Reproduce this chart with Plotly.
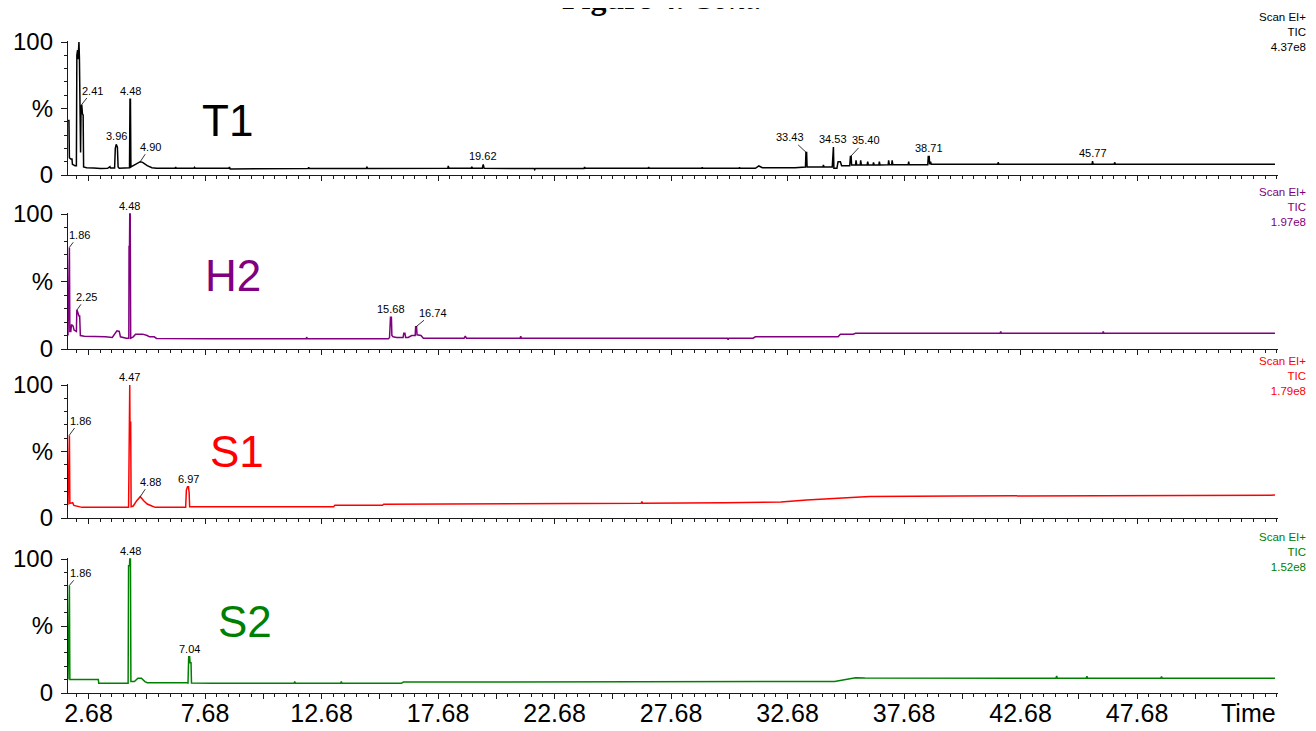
import plotly.graph_objects as go

# ---------------- data (retention time [min], relative intensity [%]) ----------------
SAMPLES = ["T1", "H2", "S1", "S2"]
COLORS = ["#000000", "#800080", "#ff0000", "#008000"]
SCALE_LABELS = ["4.37e8", "1.97e8", "1.79e8", "1.52e8"]

T1_POINTS = [
    (1.80, 41), (1.84, 41), (1.86, 13), (1.92, 12), (1.97, 12), (1.99, 8), (2.10, 7), (2.16, 7),
    (2.18, 90), (2.21, 94), (2.23, 87), (2.25, 100), (2.27, 100), (2.29, 88), (2.31, 17), (2.34, 17),
    (2.36, 50), (2.39, 53), (2.42, 46), (2.45, 45), (2.47, 6), (2.60, 5.5), (2.90, 5.2), (3.20, 4.8),
    (3.50, 5), (3.60, 6.2), (3.62, 5.2), (3.80, 5.2), (3.83, 20), (3.87, 23), (3.92, 21), (3.95, 6),
    (4.00, 5), (4.44, 5.5), (4.46, 57), (4.48, 57), (4.50, 6), (4.60, 7), (4.80, 9), (4.90, 10),
    (5.00, 9.5), (5.20, 7), (5.40, 5.5), (5.60, 5), (6.40, 5), (6.42, 6), (6.45, 5), (7.20, 5),
    (7.23, 5.8), (7.26, 5), (8.70, 5), (8.73, 6), (8.76, 4.6), (11.50, 4.6), (12.10, 4.8), (12.13, 5.8),
    (12.16, 4.8), (14.60, 4.9), (14.63, 5.8), (14.66, 4.9), (18.10, 5), (18.12, 6.8), (18.15, 5),
    (19.10, 5), (19.13, 6.2), (19.16, 5), (19.58, 5), (19.62, 8), (19.66, 5), (21.80, 4.9), (21.83, 4.0),
    (21.86, 4.9), (23.95, 4.9), (23.97, 6), (24.00, 5), (26.70, 5), (26.72, 6), (26.75, 5), (29.00, 5),
    (29.02, 5.8), (29.05, 5), (30.60, 5), (30.62, 5.8), (30.65, 5), (31.30, 5), (31.45, 6.8), (31.60, 5.5),
    (33.00, 5.4), (33.30, 5.8), (33.45, 6), (33.47, 17), (33.50, 17), (33.52, 6), (34.20, 6), (34.22, 7.5),
    (34.25, 6), (34.60, 6), (34.62, 21), (34.65, 21), (34.67, 5), (34.80, 5), (34.85, 10), (34.95, 10),
    (35.00, 7), (35.35, 7), (35.38, 14), (35.41, 14), (35.43, 7.5), (35.60, 7.5), (35.62, 11), (35.65, 7.5),
    (35.80, 7.5), (35.82, 11), (35.85, 7.5), (36.10, 7.6), (36.12, 10), (36.15, 7.6), (36.35, 7.6),
    (36.37, 9.5), (36.40, 7.6), (36.60, 7.6), (36.62, 10), (36.65, 7.6), (37.00, 7.7), (37.02, 11),
    (37.05, 7.7), (37.15, 7.7), (37.17, 11), (37.20, 7.7), (37.86, 7.8), (37.88, 10), (37.90, 7.8),
    (38.70, 7.8), (38.72, 14), (38.76, 14), (38.78, 8), (38.82, 10), (38.85, 8), (41.70, 8), (41.72, 9.5),
    (41.75, 8), (45.75, 8), (45.77, 10.5), (45.80, 8), (46.70, 8), (46.72, 9.5), (46.75, 8), (53.60, 8),
]

H2_POINTS = [
    (1.80, 10), (1.83, 75), (1.86, 75), (1.88, 13), (1.92, 13), (1.95, 18), (2.02, 17), (2.06, 14),
    (2.13, 13), (2.16, 13), (2.18, 29), (2.22, 27), (2.25, 24), (2.28, 24), (2.30, 25), (2.33, 10),
    (2.50, 9.5), (2.90, 9.5), (3.10, 9), (3.40, 9), (3.70, 8.5), (3.80, 11), (3.90, 13.5), (4.00, 13),
    (4.05, 9), (4.30, 8), (4.41, 8), (4.42, 76), (4.44, 76), (4.45, 100), (4.47, 100), (4.49, 8),
    (4.60, 9), (4.70, 11), (5.00, 11), (5.20, 10), (5.30, 9), (5.50, 9), (5.60, 7.8), (8.00, 7.5),
    (12.02, 7.5), (12.04, 8.8), (12.07, 7.5), (15.55, 7.5), (15.60, 8.5), (15.64, 23.5), (15.68, 23.5),
    (15.70, 10), (15.75, 9), (15.90, 8.5), (16.18, 8.5), (16.21, 11.6), (16.26, 11.6), (16.29, 8.5),
    (16.40, 8.5), (16.55, 10), (16.70, 10), (16.72, 16.5), (16.76, 16.5), (16.78, 10.5), (16.95, 10),
    (17.05, 8), (18.80, 8), (18.85, 9.5), (18.90, 8), (21.20, 8), (21.23, 9.5), (21.26, 8), (30.10, 8),
    (30.13, 6.8), (30.16, 8), (31.20, 8), (31.30, 9), (34.85, 9), (34.95, 11), (35.50, 11), (35.60, 11.6),
    (41.80, 11.6), (41.83, 13), (41.86, 11.6), (46.20, 11.6), (46.23, 13), (46.26, 11.6), (53.60, 11.6),
]

S1_POINTS = [
    (1.80, 10), (1.83, 62), (1.86, 62), (1.88, 11), (1.95, 11), (2.00, 11.5), (2.05, 9.5), (2.20, 9),
    (2.40, 8), (3.00, 8), (3.50, 7.8), (4.00, 8), (4.40, 8), (4.42, 100), (4.45, 100), (4.46, 72),
    (4.49, 72), (4.51, 8.5), (4.60, 9), (4.75, 13), (4.90, 16), (5.05, 13), (5.20, 10.5), (5.40, 9),
    (5.55, 8), (6.20, 8), (6.85, 8), (6.88, 21), (6.93, 23.5), (6.97, 23.5), (7.00, 19), (7.02, 8.5),
    (7.20, 8.5), (10.00, 8.5), (13.20, 8.5), (13.25, 9.5), (15.30, 9.5), (15.35, 10.3), (20.00, 10.5),
    (25.00, 10.8), (26.40, 11), (26.43, 12.3), (26.46, 11), (30.00, 11.5), (32.40, 12), (33.50, 13.5),
    (34.50, 14.5), (35.50, 15.8), (36.20, 16.2), (40.00, 16.5), (45.00, 16.8), (50.00, 17), (53.60, 17.2),
]

S2_POINTS = [
    (1.80, 10), (1.83, 80), (1.86, 80), (1.88, 10), (2.50, 10), (3.10, 10), (3.12, 7.2), (4.38, 7.2),
    (4.40, 95), (4.44, 95), (4.45, 100), (4.48, 100), (4.50, 8.5), (4.65, 8.5), (4.80, 11), (4.95, 11),
    (5.10, 8.5), (5.20, 7.7), (6.90, 7.7), (6.95, 7.5), (6.98, 27), (7.02, 27), (7.04, 22.6), (7.08, 22.6),
    (7.10, 7.5), (8.00, 7.2), (11.50, 7.2), (11.53, 8.5), (11.56, 7.2), (13.50, 7.2), (13.53, 8.5),
    (13.56, 7.2), (16.10, 7.2), (16.20, 8.2), (20.00, 8.2), (25.00, 8.2), (30.00, 8.3), (33.30, 8.4),
    (34.70, 8.6), (35.60, 11.4), (36.00, 11.2), (44.20, 11), (44.23, 12.7), (44.26, 11), (45.50, 11),
    (45.53, 12.5), (45.56, 11), (48.70, 11), (48.73, 12.3), (48.76, 11), (53.60, 11),
]

# peak labels: (text, retention time, intensity)
T1_PEAKS = [("2.41", 2.39, 53), ("3.96", 3.87, 23), ("4.48", 4.47, 57), ("4.90", 4.90, 10),
            ("19.62", 19.62, 8), ("33.43", 33.48, 17), ("34.53", 34.63, 21), ("35.40", 35.39, 14),
            ("38.71", 38.74, 14), ("45.77", 45.77, 10.5)]
H2_PEAKS = [("1.86", 1.845, 75), ("2.25", 2.19, 29), ("4.48", 4.46, 100), ("15.68", 15.66, 23.5),
            ("16.74", 16.74, 16.5)]
S1_PEAKS = [("1.86", 1.845, 62), ("4.47", 4.435, 100), ("4.88", 4.90, 16), ("6.97", 6.95, 23.5)]
S2_PEAKS = [("1.86", 1.845, 80), ("4.48", 4.465, 100), ("7.04", 7.00, 27)]

X_TICK_LABELS = ["2.68", "7.68", "12.68", "17.68", "22.68", "27.68", "32.68", "37.68", "42.68", "47.68"]
Y_TICK_LABELS = ["0", "%", "100"]

ALL_POINTS = [T1_POINTS, H2_POINTS, S1_POINTS, S2_POINTS]
ALL_PEAKS = [T1_PEAKS, H2_PEAKS, S1_PEAKS, S2_PEAKS]

# leader-line offsets (px) for labels that sit beside their peak; others sit straight above
LEADERS = {
    (0, "2.41"): (11, -14), (0, "4.90"): (10, -15), (0, "33.43"): (-16, -15), (0, "35.40"): (15, -16),
    (1, "1.86"): (10, -13), (1, "2.25"): (9, -13), (1, "16.74"): (17, -14),
    (2, "1.86"): (11, -15), (2, "4.88"): (10, -15),
    (3, "1.86"): (11, -13),
}

# ---------------- layout geometry (page pixels; the page body has an 8 px margin) ----------------
PAGE_W, PAGE_H, BODY = 1316, 731, 8
PLOT_L, PLOT_R, PLOT_T, PLOT_B = 68, 1278, 38, 693
W, H = PAGE_W - BODY, PAGE_H - BODY
ML, MR, MT, MB = PLOT_L - BODY, PAGE_W - PLOT_R, PLOT_T - BODY, PAGE_H - PLOT_B
PW, PH = PLOT_R - PLOT_L, PLOT_B - PLOT_T
X_RANGE = [1.80, 53.73]
PANELS_PX = [(42, 175), (214, 349), (385, 518), (559, 693)]  # (100 % row, 0 % row)
BIG_LABEL_PX = [(227, 120), (233, 275), (237, 451), (245, 621)]
SCAN_LABEL_PY = [32, 207, 376, 552]
FONT = "Liberation Sans, Arial, sans-serif"


def px_x(px):
    return (px - PLOT_L) / PW


def px_y(py):
    return 1 - (py - PLOT_T) / PH


# major ticks every 2.5 min, labels every 5 min
major_vals, major_text = [], []
k = 0
v = 2.68
while v <= X_RANGE[1]:
    major_vals.append(round(v, 2))
    idx = k // 2
    major_text.append(X_TICK_LABELS[idx] if (k % 2 == 0 and idx < len(X_TICK_LABELS)) else "")
    k += 1
    v += 2.5

fig = go.Figure()
layout = dict(
    width=W, height=H, paper_bgcolor="white", plot_bgcolor="white",
    margin=dict(l=ML, r=MR, t=MT, b=MB, pad=0, autoexpand=False),
    showlegend=False, font=dict(family=FONT, color="black"),
)
annotations = []

for i, (pts, color) in enumerate(zip(ALL_POINTS, COLORS)):
    n = "" if i == 0 else str(i + 1)
    t, val = zip(*pts)
    fig.add_trace(go.Scatter(x=list(t), y=list(val), mode="lines", hoverinfo="skip",
                             line=dict(color=color, width=1.5), xaxis="x" + n, yaxis="y" + n))
    top_px, bot_px = PANELS_PX[i]
    h = bot_px - top_px
    layout["xaxis" + n] = dict(
        domain=[0, 1], range=X_RANGE, anchor="y" + n, showgrid=False, zeroline=False,
        showline=True, linecolor="#1a1a1a", linewidth=1.3,
        tickmode="array", tickvals=major_vals, ticktext=major_text,
        ticks="outside", ticklen=5, tickwidth=1, tickcolor="#1a1a1a",
        showticklabels=(i == 3), tickfont=dict(size=25, family=FONT, color="black"),
        ticklabelstandoff=-7,
        minor=dict(tickmode="linear", tick0=2.68, dtick=0.5, ticks="outside", ticklen=3,
                   tickwidth=1, tickcolor="#1a1a1a", showgrid=False),
        fixedrange=True,
    )
    layout["yaxis" + n] = dict(
        domain=[max(0, px_y(bot_px)), min(1, px_y(top_px - h * 0.01))], range=[0, 101], anchor="x" + n,
        showgrid=False, zeroline=False, showline=True, linecolor="#1a1a1a", linewidth=1.3,
        tickmode="array", tickvals=[0, 50, 100], ticktext=Y_TICK_LABELS,
        ticks="outside", ticklen=6, tickwidth=1, tickcolor="#1a1a1a",
        tickfont=dict(size=24, family=FONT, color="black"), ticklabelstandoff=3,
        minor=dict(tickmode="linear", tick0=0, dtick=10, ticks="outside", ticklen=3,
                   tickwidth=1, tickcolor="#1a1a1a", showgrid=False),
        fixedrange=True,
    )
    # sample name
    bx, by = BIG_LABEL_PX[i]
    annotations.append(dict(x=px_x(bx), y=px_y(by), xref="paper", yref="paper", text=SAMPLES[i],
                            showarrow=False, xanchor="center", yanchor="middle",
                            font=dict(size=44, color=color,
                                      family="Liberation Sans Narrow, Arial Narrow, " + FONT)))
    # scan info
    annotations.append(dict(x=px_x(1308), y=px_y(SCAN_LABEL_PY[i]), xref="paper", yref="paper",
                            text="Scan EI+<br>TIC<br>" + SCALE_LABELS[i], showarrow=False,
                            xanchor="right", yanchor="middle", align="right",
                            font=dict(size=11.5, color=color, family=FONT)))
    # peak labels
    for text, rt, inten in ALL_PEAKS[i]:
        key = (i, text)
        if key in LEADERS:
            axo, ayo = LEADERS[key]
            annotations.append(dict(x=rt, y=inten, xref="x" + n, yref="y" + n, text=text,
                                    showarrow=True, arrowhead=0, arrowwidth=0.8, arrowcolor="black",
                                    standoff=0, ax=axo, ay=ayo,
                                    font=dict(size=11, color="black", family=FONT)))
        else:
            annotations.append(dict(x=rt, y=inten, xref="x" + n, yref="y" + n, text=text,
                                    showarrow=False, xanchor="center", yanchor="bottom", yshift=0,
                                    font=dict(size=11, color="black", family=FONT)))

# axis name at the right end of the bottom axis
annotations.append(dict(x=1, y=px_y(713), xref="paper", yref="paper", text="Time", showarrow=False,
                        xanchor="right", yanchor="middle", font=dict(size=25, family=FONT, color="black")))
# figure caption, cut by the top edge as in the original page
annotations.append(dict(x=px_x(662), y=px_y(18), xref="paper", yref="paper",
                        text="<b>Figure 4.</b> <i>Cont.</i>", showarrow=False,
                        xanchor="center", yanchor="bottom",
                        font=dict(size=32, family="Liberation Serif, Times New Roman, serif", color="black")))

layout["annotations"] = annotations
fig.update_layout(**layout)
fig.write_html("out.html")
